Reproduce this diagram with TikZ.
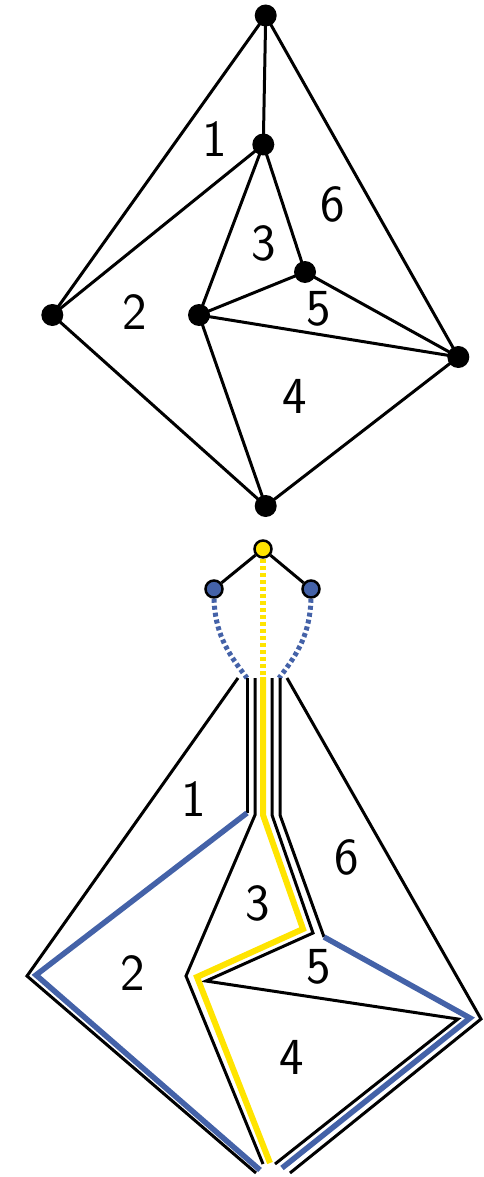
\documentclass[tikz,border=0pt]{standalone}
\usepackage{tikz}
\definecolor{myblue}{RGB}{68,98,168}
\definecolor{myyellow}{RGB}{255,228,0}
\tikzset{
  blk/.style={line width=3pt, black},
  bluepath/.style={line width=5.5pt, myblue},
  yelpath/.style={line width=6pt, myyellow},
  vdot/.style={circle, fill=black, inner sep=0pt, minimum size=22pt},
  tnode/.style={circle, draw=black, line width=2.5pt, inner sep=0pt, minimum size=17pt},
  lab/.style={font=\sffamily\fontsize{52}{60}\selectfont, inner sep=0pt},
}
\begin{document}
\begin{tikzpicture}[x=1pt,y=-1pt]
\useasboundingbox (0,0) rectangle (483,1177);
% ---------- top graph ----------
\node[vdot] (T) at (265.7,15.5) {};
\node[vdot] (C) at (263.3,144.5) {};
\node[vdot] (L) at (52.3,315) {};
\node[vdot] (M) at (199,315) {};
\node[vdot] (P) at (305,272) {};
\node[vdot] (R) at (458.3,357) {};
\node[vdot] (B) at (265.7,506) {};
\draw[blk] (T.center) -- (C.center);
\draw[blk] (T.center) -- (L.center);
\draw[blk] (T.center) -- (R.center);
\draw[blk] (C.center) -- (L.center);
\draw[blk] (C.center) -- (M.center);
\draw[blk] (C.center) -- (P.center);
\draw[blk] (P.center) -- (M.center);
\draw[blk] (P.center) -- (R.center);
\draw[blk] (M.center) -- (R.center);
\draw[blk] (M.center) -- (B.center);
\draw[blk] (L.center) -- (B.center);
\draw[blk] (B.center) -- (R.center);
\node[lab] (t1) at (215,139) {1};
\node[lab] (t2) at (135,312) {2};
\node[lab] (t3) at (264,243) {3};
\node[lab] (t4) at (295,396) {4};
\node[lab] (t5) at (319,309) {5};
\node[lab] (t6) at (333,204) {6};
% ---------- bottom: tree ----------
\node[tnode, fill=myyellow] (Y) at (263,549) {};
\node[tnode, fill=myblue] (BL) at (214,589) {};
\node[tnode, fill=myblue] (BR) at (311,589) {};
\draw[blk] (Y) -- (BL);
\draw[blk] (Y) -- (BR);
\coordinate (ytop) at (263,677);
\coordinate (bltop) at (247,678);
\coordinate (brtop) at (279,678);
\draw[myyellow, line width=5.5pt, dash pattern=on 4pt off 3pt] (Y.south) -- (ytop);
\draw[myblue, line width=5pt, dash pattern=on 4pt off 3pt] (BL.south) to[out=-88,in=128] (bltop);
\draw[myblue, line width=5pt, dash pattern=on 4pt off 3pt] (BR.south) to[out=-92,in=52] (brtop);
% ---------- bottom: cut graph ----------
\coordinate (ol0) at (238,678);
\coordinate (ol1) at (27,976);
\coordinate (ol2) at (256,1173);
\coordinate (or0) at (287,678);
\coordinate (or1) at (481,1019);
\coordinate (or2) at (290,1173);
\draw[blk] (ol0) -- (ol1) -- (ol2);
\draw[blk] (or0) -- (or1) -- (or2);
% left pair
\coordinate (a0) at (247,678);
\coordinate (a1) at (247,813);
\draw[blk] (a0) -- (a1);
\coordinate (b0) at (255,678);
\coordinate (b1) at (255,815);
\coordinate (b2) at (186,976);
\coordinate (b3) at (263,1164);
\draw[blk] (b0) -- (b1) -- (b2) -- (b3);
% right pair
\coordinate (c0) at (272,678);
\coordinate (c1) at (272,815);
\coordinate (c2) at (313,933);
\coordinate (c3) at (206,981);
\coordinate (c4) at (458,1019);
\coordinate (c5) at (275,1164);
\draw[blk] (c0) -- (c1) -- (c2) -- (c3) -- (c4) -- (c5);
\coordinate (d0) at (280,678);
\coordinate (d1) at (280,815);
\coordinate (d2) at (324,937);
\draw[blk] (d0) -- (d1) -- (d2);
% blue paths
\coordinate (e1) at (36,975);
\coordinate (e2) at (260,1170);
\draw[bluepath] (a1) -- (e1) -- (e2);
\coordinate (f1) at (470,1018);
\coordinate (f2) at (282,1168);
\draw[bluepath] (d2) -- (f1) -- (f2);
% yellow path
\coordinate (y1) at (263,815);
\coordinate (y2) at (303,929);
\coordinate (y3) at (197,977);
\coordinate (y4) at (270,1163);
\draw[yelpath] (ytop) -- (y1) -- (y2) -- (y3) -- (y4);
% labels
\node[lab] (b1l) at (194,799) {1};
\node[lab] (b2l) at (133,973) {2};
\node[lab] (b3l) at (258,903) {3};
\node[lab] (b4l) at (292,1057) {4};
\node[lab] (b5l) at (319,967) {5};
\node[lab] (b6l) at (347,857) {6};
\end{tikzpicture}
\end{document}
